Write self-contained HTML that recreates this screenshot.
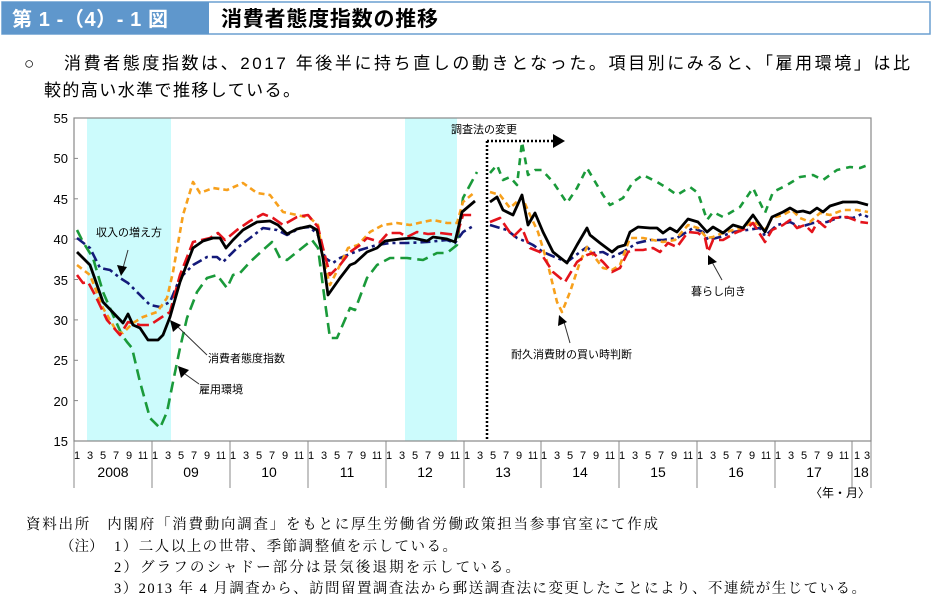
<!DOCTYPE html>
<html><head><meta charset="utf-8"><style>
body{margin:0;width:933px;height:598px;background:#fff;overflow:hidden}
svg{display:block}
.g{font-family:"Liberation Sans","Noto Sans CJK JP",sans-serif}
.s{font-family:"Liberation Serif","Noto Serif CJK SC",serif}
</style></head><body>
<svg width="933" height="598" viewBox="0 0 933 598" xmlns="http://www.w3.org/2000/svg">
<rect x="2" y="2" width="928" height="32" fill="#fff" stroke="#6a9fd0" stroke-width="1.5"/>
<rect x="2" y="2" width="207" height="32" fill="#5f97cc"/>
<text x="12" y="26" class="g" font-size="20" fill="#fff" font-weight="bold" textLength="156" lengthAdjust="spacing">第 1 -（4）- 1 図</text>
<text x="221" y="26" class="g" font-size="21" fill="#000" font-weight="bold" textLength="217" lengthAdjust="spacing">消費者態度指数の推移</text>
<text x="24" y="69" class="g" font-size="17">○</text>
<text x="64" y="69" class="g" font-size="17" textLength="846" lengthAdjust="spacing">消費者態度指数は、2017 年後半に持ち直しの動きとなった。項目別にみると、「雇用環境」は比</text>
<text x="44" y="96" class="g" font-size="17" textLength="256" lengthAdjust="spacing">較的高い水準で推移している。</text>

<rect x="87" y="118" width="84" height="323" fill="#ccfbfc"/>
<rect x="405" y="118" width="52" height="323" fill="#ccfbfc"/>
<rect x="74" y="118" width="797" height="323" fill="none" stroke="#888" stroke-width="1.2"/>
<g stroke="#888" stroke-width="1">
<line x1="74" y1="158.4" x2="78" y2="158.4"/><line x1="74" y1="198.8" x2="78" y2="198.8"/><line x1="74" y1="239.1" x2="78" y2="239.1"/><line x1="74" y1="279.5" x2="78" y2="279.5"/><line x1="74" y1="319.9" x2="78" y2="319.9"/><line x1="74" y1="360.3" x2="78" y2="360.3"/><line x1="74" y1="400.6" x2="78" y2="400.6"/>
<line x1="74" y1="441" x2="74" y2="488"/><line x1="152" y1="441" x2="152" y2="488"/><line x1="230" y1="441" x2="230" y2="488"/><line x1="308" y1="441" x2="308" y2="488"/><line x1="386" y1="441" x2="386" y2="488"/><line x1="464" y1="441" x2="464" y2="488"/><line x1="541" y1="441" x2="541" y2="488"/><line x1="619" y1="441" x2="619" y2="488"/><line x1="697" y1="441" x2="697" y2="488"/><line x1="775" y1="441" x2="775" y2="488"/><line x1="852" y1="441" x2="852" y2="488"/><line x1="871" y1="441" x2="871" y2="488"/>
</g>
<g class="g" font-size="13" text-anchor="end">
<text x="68" y="123">55</text><text x="68" y="163">50</text><text x="68" y="204">45</text><text x="68" y="244">40</text><text x="68" y="285">35</text><text x="68" y="325">30</text><text x="68" y="365">25</text><text x="68" y="406">20</text><text x="68" y="446">15</text>
</g>
<g class="g" font-size="11" text-anchor="middle" id="m">
<text x="77" y="459">1</text><text x="90" y="459">3</text><text x="103" y="459">5</text><text x="116" y="459">7</text><text x="129" y="459">9</text><text x="143" y="459" textLength="10" lengthAdjust="spacingAndGlyphs">11</text>
</g>
<use href="#m" x="78"/><use href="#m" x="156"/><use href="#m" x="234"/><use href="#m" x="312"/><use href="#m" x="390"/><use href="#m" x="467"/><use href="#m" x="545"/><use href="#m" x="623"/><use href="#m" x="701"/>
<g class="g" font-size="11" text-anchor="middle"><text x="857" y="459">1</text><text x="867" y="459">3</text></g>
<g class="g" font-size="14" text-anchor="middle">
<text x="113" y="477">2008</text><text x="191" y="477">09</text><text x="269" y="477">10</text><text x="347" y="477">11</text><text x="425" y="477">12</text><text x="503" y="477">13</text><text x="580" y="477">14</text><text x="658" y="477">15</text><text x="736" y="477">16</text><text x="814" y="477">17</text><text x="861" y="477">18</text>
</g>
<text x="870" y="497" class="g" font-size="12" text-anchor="end">〈年・月〉</text>

<line x1="487" y1="141" x2="487" y2="441" stroke="#000" stroke-width="2.5" stroke-dasharray="2,2"/>
<line x1="487" y1="141" x2="555" y2="141" stroke="#000" stroke-width="2.5" stroke-dasharray="2,2"/>
<polygon points="553,134 565,141 553,148" fill="#000"/>
<text x="451" y="133" class="g" font-size="11">調査法の変更</text>

<g fill="none" stroke-width="2.6" stroke-linejoin="round">
<polyline stroke="#1a9a3a" stroke-dasharray="11,6" points="77,230 83,242 93,258 103,292 113,315 122,335 127,342 132,348 140,382 150,418 160,428 167,412 173,382 180,348 187,318 197,292 207,278 217,275 227,288 233,275 240,273 250,262 263,250 272,242 280,258 287,260 297,252 312,240 318,248 325,302 330,338 337,338 350,308 355,310 367,278 377,265 390,258 407,258 423,260 437,253 447,253 457,245 463,198 477,172"/>
<polyline stroke="#1a9a3a" stroke-dasharray="7,6" points="490,173 497,165 503,180 510,177 517,185 522,142 528,175 535,170 542,170 553,182 567,203 577,188 587,168 597,185 603,195 610,205 623,198 633,182 643,175 657,182 667,188 677,195 690,187 698,193 707,220 713,212 723,217 740,207 753,188 765,213 773,192 787,185 800,177 813,175 823,180 837,170 850,167 860,168 868,165"/>
<polyline stroke="#141a7a" stroke-dasharray="10,4,3,4" points="77,238 90,248 100,268 110,270 120,278 128,283 140,295 150,305 160,307 170,302 180,278 193,265 207,257 217,257 223,262 237,248 250,238 263,228 277,230 287,235 300,228 310,227 318,235 325,258 333,263 340,258 360,250 377,245 390,243 407,243 427,242 447,240 455,243 463,232 475,225"/>
<polyline stroke="#141a7a" stroke-dasharray="10,4,3,4" points="490,225 507,230 517,238 527,242 533,245 543,252 557,258 567,262 580,252 587,247 593,253 603,252 612,257 623,252 637,243 650,240 663,240 677,238 693,228 703,232 708,240 720,237 733,232 747,230 760,228 765,236 777,225 790,222 800,227 813,223 827,222 840,217 853,218 862,214 868,217"/>
<polyline stroke="#f7a01c" stroke-dasharray="6,4" points="77,265 90,275 103,308 117,332 123,333 133,323 143,317 157,312 167,298 173,272 183,215 193,182 200,193 213,188 227,190 243,183 257,193 270,195 283,212 297,215 310,218 318,225 323,258 330,285 340,265 348,248 358,245 370,232 383,225 397,223 410,225 423,222 433,220 447,223 457,223 463,202 475,192"/>
<polyline stroke="#f7a01c" stroke-dasharray="6,4" points="490,192 500,195 510,208 522,197 530,215 538,232 548,265 557,302 562,312 570,292 580,262 587,247 593,255 603,268 612,270 620,265 630,238 643,238 653,240 663,242 675,240 688,225 698,228 707,238 713,237 723,233 733,230 743,228 753,221 765,230 772,218 783,215 792,210 800,218 810,222 820,213 830,215 843,210 857,210 868,212"/>
<polyline stroke="#e4131b" stroke-dasharray="12,5" points="77,275 83,283 88,282 95,295 107,320 120,335 128,322 140,325 150,325 162,317 170,312 180,275 193,242 210,238 218,233 225,240 237,230 250,221 263,214 273,218 283,225 297,217 308,215 318,227 323,248 330,275 340,265 350,252 360,245 367,238 380,242 388,233 400,233 407,237 417,232 428,234 440,233 457,235 463,215 475,215"/>
<polyline stroke="#e4131b" stroke-dasharray="12,5" points="490,222 500,218 513,237 522,228 530,248 540,252 553,272 565,282 577,262 587,255 593,253 603,262 612,272 620,268 628,252 633,250 643,250 653,248 660,252 668,243 677,247 688,232 698,233 705,238 708,252 713,240 723,240 735,233 747,228 753,223 765,242 772,230 783,225 790,220 797,228 805,225 812,232 818,221 825,227 833,218 847,217 860,222 868,223"/>
<polyline stroke="#000" stroke-width="2.8" points="77,252 90,265 103,302 123,323 128,314 133,325 140,328 148,340 158,340 163,335 170,317 180,282 193,248 203,241 213,238 220,238 226,248 233,240 243,230 257,222 270,221 278,225 287,234 297,229 310,226 317,230 323,258 328,295 340,278 350,265 355,263 367,252 377,248 385,241 400,239 413,238 427,241 433,237 447,239 455,242 462,212 475,201"/>
<polyline stroke="#000" stroke-width="2.8" points="490,202 497,197 503,210 513,215 522,195 528,225 535,213 543,232 553,252 567,263 577,245 587,228 590,235 600,243 612,252 618,247 625,245 630,232 638,227 650,228 657,228 663,233 670,228 677,232 688,219 698,222 707,232 713,227 723,233 733,225 743,228 753,215 765,232 772,217 783,212 790,208 797,212 803,211 810,213 817,208 823,212 830,206 843,202 857,202 868,205"/>
</g>

<g stroke="#333" stroke-width="1">
<line x1="128" y1="250" x2="123" y2="268"/>
<line x1="207" y1="355" x2="178" y2="327"/>
<line x1="199" y1="384" x2="185" y2="374"/>
<line x1="570" y1="343" x2="564" y2="322"/>
<line x1="722" y1="280" x2="712" y2="262"/>
</g>
<polygon points="117,265 127,267 121,276" fill="#000"/>
<polygon points="170,320 181,325 173,332" fill="#000"/>
<polygon points="178,366 189,370 181,378" fill="#000"/>
<polygon points="559,315 567,322 558,326" fill="#000"/>
<polygon points="708,255 717,262 708,265" fill="#000"/>
<g class="g" font-size="11">
<text x="96" y="236">収入の増え方</text>
<text x="208" y="362">消費者態度指数</text>
<text x="199" y="393">雇用環境</text>
<text x="511" y="358">耐久消費財の買い時判断</text>
<text x="691" y="295">暮らし向き</text>
</g>

<g class="s" font-size="14.5">
<text x="26" y="529" textLength="632" lengthAdjust="spacing">資料出所　内閣府「消費動向調査」をもとに厚生労働省労働政策担当参事官室にて作成</text>
<text x="60" y="551">（注）</text>
<text x="114" y="551" textLength="343" lengthAdjust="spacing">1）二人以上の世帯、季節調整値を示している。</text>
<text x="114" y="572" textLength="406" lengthAdjust="spacing">2）グラフのシャドー部分は景気後退期を示している。</text>
<text x="114" y="593" textLength="752" lengthAdjust="spacing">3）2013 年 4 月調査から、訪問留置調査法から郵送調査法に変更したことにより、不連続が生じている。</text>
</g>
</svg>
</body></html>
